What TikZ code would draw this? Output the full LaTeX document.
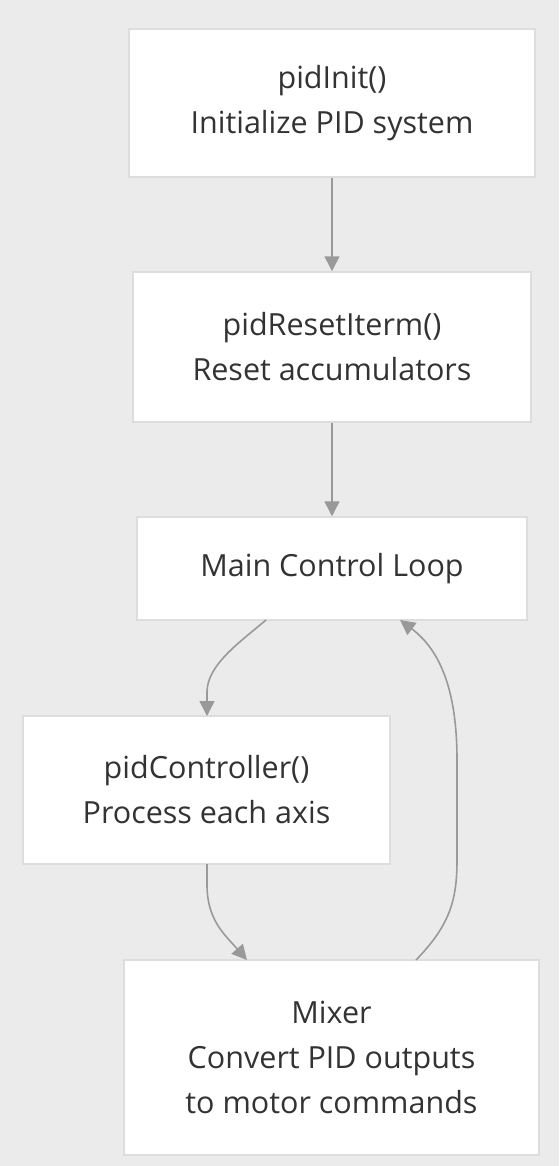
\documentclass[tikz,border=0pt]{standalone}
\usepackage{fontspec}
\setmainfont{Open Sans}
\usetikzlibrary{arrows.meta}
\definecolor{bg}{HTML}{EBEBEB}
\definecolor{boxline}{HTML}{DDDDDD}
\definecolor{txt}{HTML}{333333}
\definecolor{edge}{HTML}{999999}
\tikzset{
  box/.style={draw=boxline, line width=1.5pt, fill=white, text=txt, align=center,
    font=\fontsize{30.5}{45}\selectfont, inner sep=0pt},
  flow/.style={draw=edge, line width=1.6pt, -{Triangle[length=15pt,width=15pt]}},
}
\begin{document}
\begin{tikzpicture}[x=1pt,y=-1pt]
\fill[bg] (0,0) rectangle (559,1166);
\useasboundingbox (0,0) rectangle (559,1166);
\node[box, minimum width=406pt, minimum height=148pt] (init) at (332,103) {pidInit()\\Initialize PID system};
\node[box, minimum width=398pt, minimum height=150pt] (reset) at (332,347) {pidResetIterm()\\Reset accumulators};
\node[box, minimum width=390pt, minimum height=103pt] (loop) at (332,568.5) {Main Control Loop};
\node[box, minimum width=367pt, minimum height=148pt] (ctrl) at (206.5,790) {pidController()\\Process each axis};
\node[box, minimum width=415pt, minimum height=195pt] (mix) at (331.5,1057.5) {Mixer\\Convert PID outputs\\to motor commands};
\coordinate (e3s) at (266,620);
\coordinate (e3e) at (207,716);
\coordinate (e4s) at (207,864);
\coordinate (e4e) at (247,960);
\coordinate (e5s) at (416,960);
\coordinate (e5e) at (400,620);
\draw[flow] (init.south) -- (reset.north);
\draw[flow] (reset.south) -- (loop.north);
\draw[flow] (e3s) .. controls (240,642) and (207,665) .. (207,692) -- (e3e);
\draw[flow] (e4s) -- (207,885) .. controls (207,920) and (225,935) .. (e4e);
\draw[flow] (e5s) .. controls (450,925) and (457,900) .. (457,860) -- (457,760) .. controls (457,690) and (440,650) .. (e5e);
\end{tikzpicture}
\end{document}
